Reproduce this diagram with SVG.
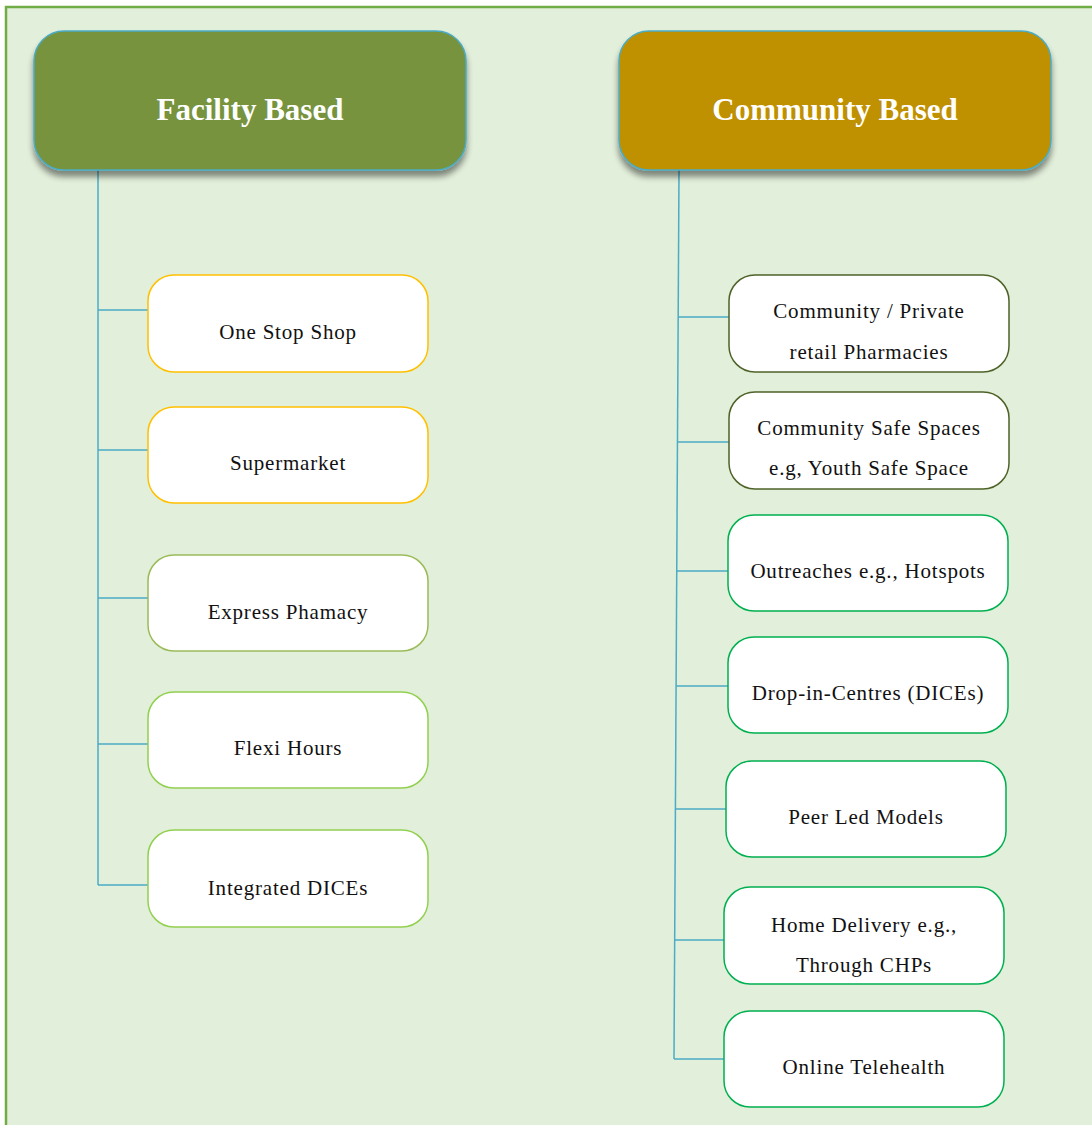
<svg xmlns="http://www.w3.org/2000/svg" width="1092" height="1125" viewBox="0 0 1092 1125">
  <defs>
    <filter id="shadow" x="-10%" y="-10%" width="120%" height="140%">
      <feGaussianBlur in="SourceAlpha" stdDeviation="3"/>
      <feOffset dx="0" dy="6" result="b"/>
      <feComponentTransfer><feFuncA type="linear" slope="0.45"/></feComponentTransfer>
      <feMerge><feMergeNode/><feMergeNode in="SourceGraphic"/></feMerge>
    </filter>
  </defs>
  <style>
    .head { stroke: #4BACC6; stroke-width: 1.5; filter: url(#shadow); }
    .head-text { font-family: "Liberation Serif", "Times New Roman", serif; font-weight: bold; font-size: 31px; fill: #FFFFFF; text-anchor: middle; }
    .item { fill: #FFFFFF; stroke-width: 1.5; }
    .item-text { font-family: "Liberation Serif", "Times New Roman", serif; font-size: 21px; fill: #111111; text-anchor: middle; letter-spacing: 0.8px; }
    .gold { stroke: #FFC000; }
    .olive { stroke: #9BBB59; }
    .lime { stroke: #92D050; }
    .dark { stroke: #4F6228; }
    .green { stroke: #00B050; }
    .conn { fill: none; stroke: #4BACC6; stroke-width: 1.5; }
  </style>

  <!-- page background -->
  <rect x="6" y="7" width="1100" height="1130" fill="#E2EFDA" stroke="#70AD47" stroke-width="2.5"/>

  <!-- connectors -->
  <g id="connectors">
    <path class="conn" d="M98,170 V885"/>
    <path class="conn" d="M98,310 H148 M98,450 H148 M98,598 H148 M98,744 H148 M98,885 H148"/>
    <path class="conn" d="M679,170 L674,1059"/>
    <path class="conn" d="M678.2,317 H729 M677.5,442 H729 M676.7,571 H728 M676.1,686 H728 M675.4,809 H726 M674.7,940 H724 M674,1059 H724"/>
  </g>

  <!-- heading nodes -->
  <g id="facility-based">
    <rect class="head" x="34" y="31" width="432" height="139" rx="30" fill="#77933C"/>
    <text class="head-text" x="250" y="120">Facility Based</text>
  </g>
  <g id="community-based">
    <rect class="head" x="619" y="31" width="432" height="139" rx="30" fill="#BF9000"/>
    <text class="head-text" x="835" y="120">Community Based</text>
  </g>

  <!-- facility based items -->
  <g id="one-stop-shop">
    <rect class="item gold" x="148" y="275" width="280" height="97" rx="26"/>
    <text class="item-text" x="288" y="339">One Stop Shop</text>
  </g>
  <g id="supermarket">
    <rect class="item gold" x="148" y="407" width="280" height="96" rx="26"/>
    <text class="item-text" x="288" y="470">Supermarket</text>
  </g>
  <g id="express-phamacy">
    <rect class="item olive" x="148" y="555" width="280" height="96" rx="26"/>
    <text class="item-text" x="288" y="619">Express Phamacy</text>
  </g>
  <g id="flexi-hours">
    <rect class="item lime" x="148" y="692" width="280" height="96" rx="26"/>
    <text class="item-text" x="288" y="755">Flexi Hours</text>
  </g>
  <g id="integrated-dices">
    <rect class="item lime" x="148" y="830" width="280" height="97" rx="26"/>
    <text class="item-text" x="288" y="895">Integrated DICEs</text>
  </g>

  <!-- community based items -->
  <g id="community-private-pharmacies">
    <rect class="item dark" x="729" y="275" width="280" height="97" rx="26"/>
    <text class="item-text" x="869" y="318">Community / Private</text>
    <text class="item-text" x="869" y="359">retail Pharmacies</text>
  </g>
  <g id="community-safe-spaces">
    <rect class="item dark" x="729" y="392" width="280" height="97" rx="26"/>
    <text class="item-text" x="869" y="435">Community Safe Spaces</text>
    <text class="item-text" x="869" y="475">e.g, Youth Safe Space</text>
  </g>
  <g id="outreaches">
    <rect class="item green" x="728" y="515" width="280" height="96" rx="26"/>
    <text class="item-text" x="868" y="578">Outreaches e.g., Hotspots</text>
  </g>
  <g id="drop-in-centres">
    <rect class="item green" x="728" y="637" width="280" height="96" rx="26"/>
    <text class="item-text" x="868" y="700">Drop-in-Centres (DICEs)</text>
  </g>
  <g id="peer-led-models">
    <rect class="item green" x="726" y="761" width="280" height="96" rx="26"/>
    <text class="item-text" x="866" y="824">Peer Led Models</text>
  </g>
  <g id="home-delivery">
    <rect class="item green" x="724" y="887" width="280" height="97" rx="26"/>
    <text class="item-text" x="864" y="932">Home Delivery e.g.,</text>
    <text class="item-text" x="864" y="972">Through CHPs</text>
  </g>
  <g id="online-telehealth">
    <rect class="item green" x="724" y="1011" width="280" height="96" rx="26"/>
    <text class="item-text" x="864" y="1074">Online Telehealth</text>
  </g>
</svg>
